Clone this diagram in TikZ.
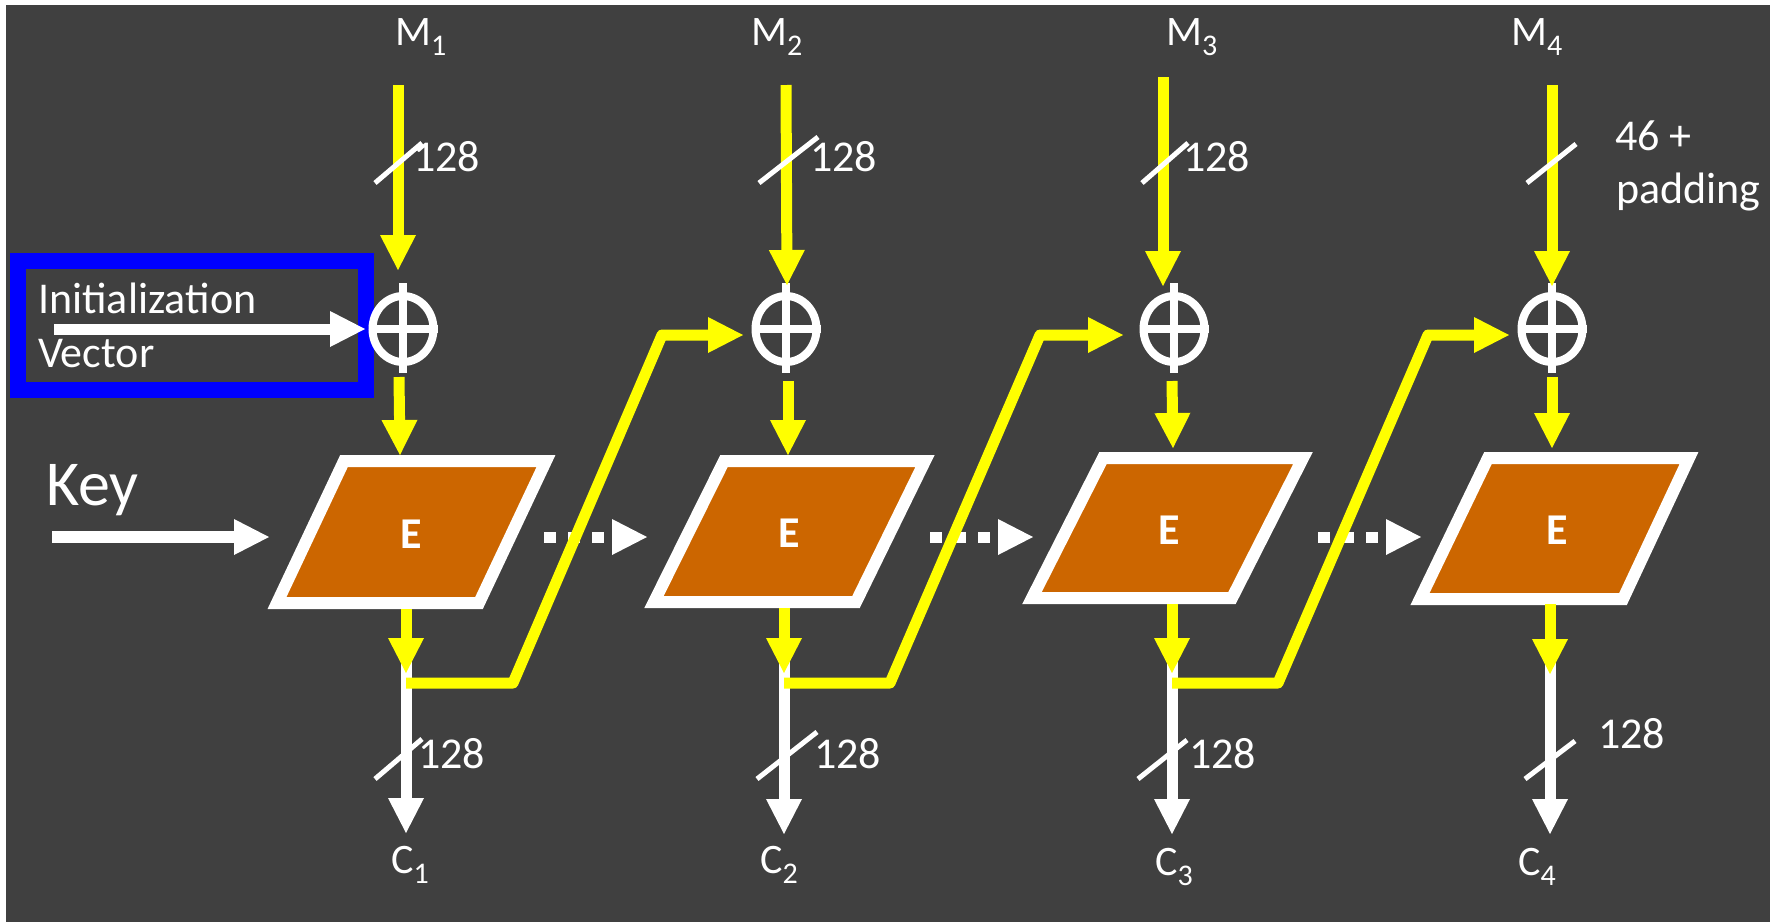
\documentclass[tikz,border=0pt]{standalone}
\usepackage{fontspec}
\setmainfont{Carlito}
\usetikzlibrary{arrows.meta,shapes.geometric}
\definecolor{bgc}{HTML}{404040}
\definecolor{encf}{HTML}{CC6600}
\definecolor{ylw}{HTML}{FFFF00}
\definecolor{blu}{HTML}{0000FF}
\newcommand\mysub[1]{\raisebox{-10pt}{\fontsize{30}{30}\selectfont #1}}
\tikzset{
  tipA/.style={-{Triangle[length=35pt,width=36pt,line width=0pt]}},
  yarr/.style={draw=ylw,line width=11pt,tipA},
  warr/.style={draw=white,line width=11pt,tipA},
  fb/.style={draw=ylw,line width=11pt,line join=round,tipA},
  dotarr/.style={draw=white,line width=11pt,dash pattern=on 12pt off 12pt,tipA},
  slash/.style={draw=white,line width=5pt},
  encbox/.style={draw=white,fill=encf,line width=12pt,line join=miter},
  xorc/.style={ellipse,draw=white,line width=8pt,minimum width=61pt,minimum height=66pt,inner sep=0pt},
  xorbar/.style={draw=white,line width=8pt},
  lbl/.style={text=white,inner sep=0pt,anchor=base west,font=\fontsize{44}{53}\selectfont},
  mlbl/.style={text=white,inner sep=0pt,anchor=base west,font=\fontsize{42}{50}\selectfont},
  elbl/.style={text=white,inner sep=0pt,font=\fontsize{44}{53}\selectfont\bfseries},
}
\begin{document}
\begin{tikzpicture}[x=1pt,y=-1pt]
\useasboundingbox (0,0) rectangle (1770,922);
\fill[white] (0,0) rectangle (1770,922);
\fill[bgc] (6,5) rectangle (1770,922);

% ---------- IV box and key ----------
\draw[blu,line width=16pt] (18,261) rectangle (366,390);
\node[lbl] (ivt1) at (38,313) {Initialization};
\node[lbl] (ivt2) at (38,367) {Vector};
\node[text=white,inner sep=0pt,anchor=base west,font=\fontsize{64}{70}\selectfont] (key) at (46,505) {Key};

% ---------- XOR nodes ----------
\node[xorc] (x1) at (403,329) {};
\node[xorc] (x2) at (786,329) {};
\node[xorc] (x3) at (1174,329) {};
\node[xorc] (x4) at (1552,329) {};
\foreach \n in {x1,x2,x3,x4}{
  \draw[xorbar] ([yshift=9pt]\n.north) -- ([yshift=-7pt]\n.south);
  \draw[xorbar] (\n.west) -- (\n.east);
}

% ---------- encryption blocks ----------
\coordinate (p1a) at (344,461); \coordinate (p1b) at (546,461);
\coordinate (p1c) at (479,603); \coordinate (p1d) at (277,603);
\coordinate (p2a) at (724,461); \coordinate (p2b) at (925,461);
\coordinate (p2c) at (856,602); \coordinate (p2d) at (654,602);
\coordinate (p3a) at (1103,458); \coordinate (p3b) at (1303,458);
\coordinate (p3c) at (1232,598); \coordinate (p3d) at (1032,598);
\coordinate (p4a) at (1488,458); \coordinate (p4b) at (1689,458);
\coordinate (p4c) at (1623,599); \coordinate (p4d) at (1420,599);
\draw[encbox] (p1a) -- (p1b) -- (p1c) -- (p1d) -- cycle;
\draw[encbox] (p2a) -- (p2b) -- (p2c) -- (p2d) -- cycle;
\draw[encbox] (p3a) -- (p3b) -- (p3c) -- (p3d) -- cycle;
\draw[encbox] (p4a) -- (p4b) -- (p4c) -- (p4d) -- cycle;
\node[elbl] (e1) at (411.5,534) {E};
\node[elbl] (e2) at (789,533) {E};
\node[elbl] (e3) at (1169,530) {E};
\node[elbl] (e4) at (1557,530) {E};

% ---------- labels ----------
\node[mlbl] (m1) at (395,45) {M\mysub{1}};
\node[mlbl] (m2) at (751,45) {M\mysub{2}};
\node[mlbl] (m3) at (1166,45) {M\mysub{3}};
\node[mlbl] (m4) at (1511,45) {M\mysub{4}};
\node[mlbl] (c1) at (391,873) {C\mysub{1}};
\node[mlbl] (c2) at (760,873) {C\mysub{2}};
\node[mlbl] (c3) at (1155,875) {C\mysub{3}};
\node[mlbl] (c4) at (1518,875) {C\mysub{4}};
\node[lbl] (w1) at (413,171) {128};
\node[lbl] (w2) at (810,171) {128};
\node[lbl] (w3) at (1183,171) {128};
\node[lbl] (w4a) at (1615,150) {46 +};
\node[lbl] (w4b) at (1616,203) {padding};
\node[lbl] (o1) at (418,768) {128};
\node[lbl] (o2) at (814,768) {128};
\node[lbl] (o3) at (1189,768) {128};
\node[lbl] (o4) at (1598,748) {128};

% ---------- coordinates of connector ends ----------
\coordinate (m1s) at (398,85);   \coordinate (m1e) at (398,270);
\coordinate (m2s) at (786,85);   \coordinate (m2e) at (787,285);
\coordinate (m3s) at (1163,77);  \coordinate (m3e) at (1163,286);
\coordinate (m4s) at (1552,85);  \coordinate (m4e) at (1552,286);
\coordinate (x1s) at (399,377);  \coordinate (x1e) at (400,455);
\coordinate (x2s) at (788,381);  \coordinate (x2e) at (788,455);
\coordinate (x3s) at (1172,381); \coordinate (x3e) at (1173,448);
\coordinate (x4s) at (1552,377); \coordinate (x4e) at (1552,448);
\coordinate (e1s) at (406,609);  \coordinate (e1e) at (406,673);
\coordinate (e2s) at (784,608);  \coordinate (e2e) at (784,673);
\coordinate (e3s) at (1172,604); \coordinate (e3e) at (1172,673);
\coordinate (e4s) at (1550,604); \coordinate (e4e) at (1550,674);
\coordinate (c1e) at (406,833);  \coordinate (c2e) at (784,834);
\coordinate (c3e) at (1172,834); \coordinate (c4e) at (1550,834);
\coordinate (ivs) at (54,329);   \coordinate (ive) at (365,329);
\coordinate (keys) at (52,537);  \coordinate (keye) at (269,537);
\coordinate (d1s) at (544,537);  \coordinate (d1e) at (647,537);
\coordinate (d2s) at (930,537);  \coordinate (d2e) at (1033,537);
\coordinate (d3s) at (1318,537); \coordinate (d3e) at (1421,537);
\coordinate (f1a) at (513,683);  \coordinate (f1b) at (662,335);  \coordinate (f1e) at (743,335);
\coordinate (f2a) at (890,683);  \coordinate (f2b) at (1040,335); \coordinate (f2e) at (1123,335);
\coordinate (f3a) at (1278,683); \coordinate (f3b) at (1428,335); \coordinate (f3e) at (1509,335);

% ---------- white connectors ----------
\draw[warr] (ivs) -- (ive);
\draw[warr,line width=12pt] (keys) -- (keye);
\draw[warr] ([yshift=12pt]e1e) -- (c1e);
\draw[warr] ([yshift=12pt]e2e) -- (c2e);
\draw[warr] ([yshift=12pt]e3e) -- (c3e);
\draw[warr] ([yshift=12pt]e4e) -- (c4e);
\draw[dotarr] (d1s) -- (d1e);
\draw[dotarr] (d2s) -- (d2e);
\draw[dotarr] (d3s) -- (d3e);

% ---------- yellow connectors ----------
\draw[yarr] (m1s) -- (m1e);
\draw[yarr] (m2s) -- (m2e);
\draw[yarr] (m3s) -- (m3e);
\draw[yarr] (m4s) -- (m4e);
\draw[yarr] (x1s) -- (x1e);
\draw[yarr] (x2s) -- (x2e);
\draw[yarr] (x3s) -- (x3e);
\draw[yarr] (x4s) -- (x4e);
\draw[yarr] (e1s) -- (e1e);
\draw[yarr] (e2s) -- (e2e);
\draw[yarr] (e3s) -- (e3e);
\draw[yarr] (e4s) -- (e4e);
\draw[fb] ([yshift=-10pt]e1e) -- (f1a) -- (f1b) -- (f1e);
\draw[fb] ([yshift=-10pt]e2e) -- (f2a) -- (f2b) -- (f2e);
\draw[fb] ([yshift=-10pt]e3e) -- (f3a) -- (f3b) -- (f3e);

% ---------- bus-width slashes ----------
\draw[slash] (375,183) -- (422,143);
\draw[slash] (759,183) -- (818,137);
\draw[slash] (1142,183) -- (1188,143);
\draw[slash] (1527,183) -- (1576,144);
\draw[slash] (375,779) -- (422,739);
\draw[slash] (757,779) -- (817,732);
\draw[slash] (1138,779) -- (1187,740);
\draw[slash] (1525,779) -- (1575,741);
\end{tikzpicture}
\end{document}
